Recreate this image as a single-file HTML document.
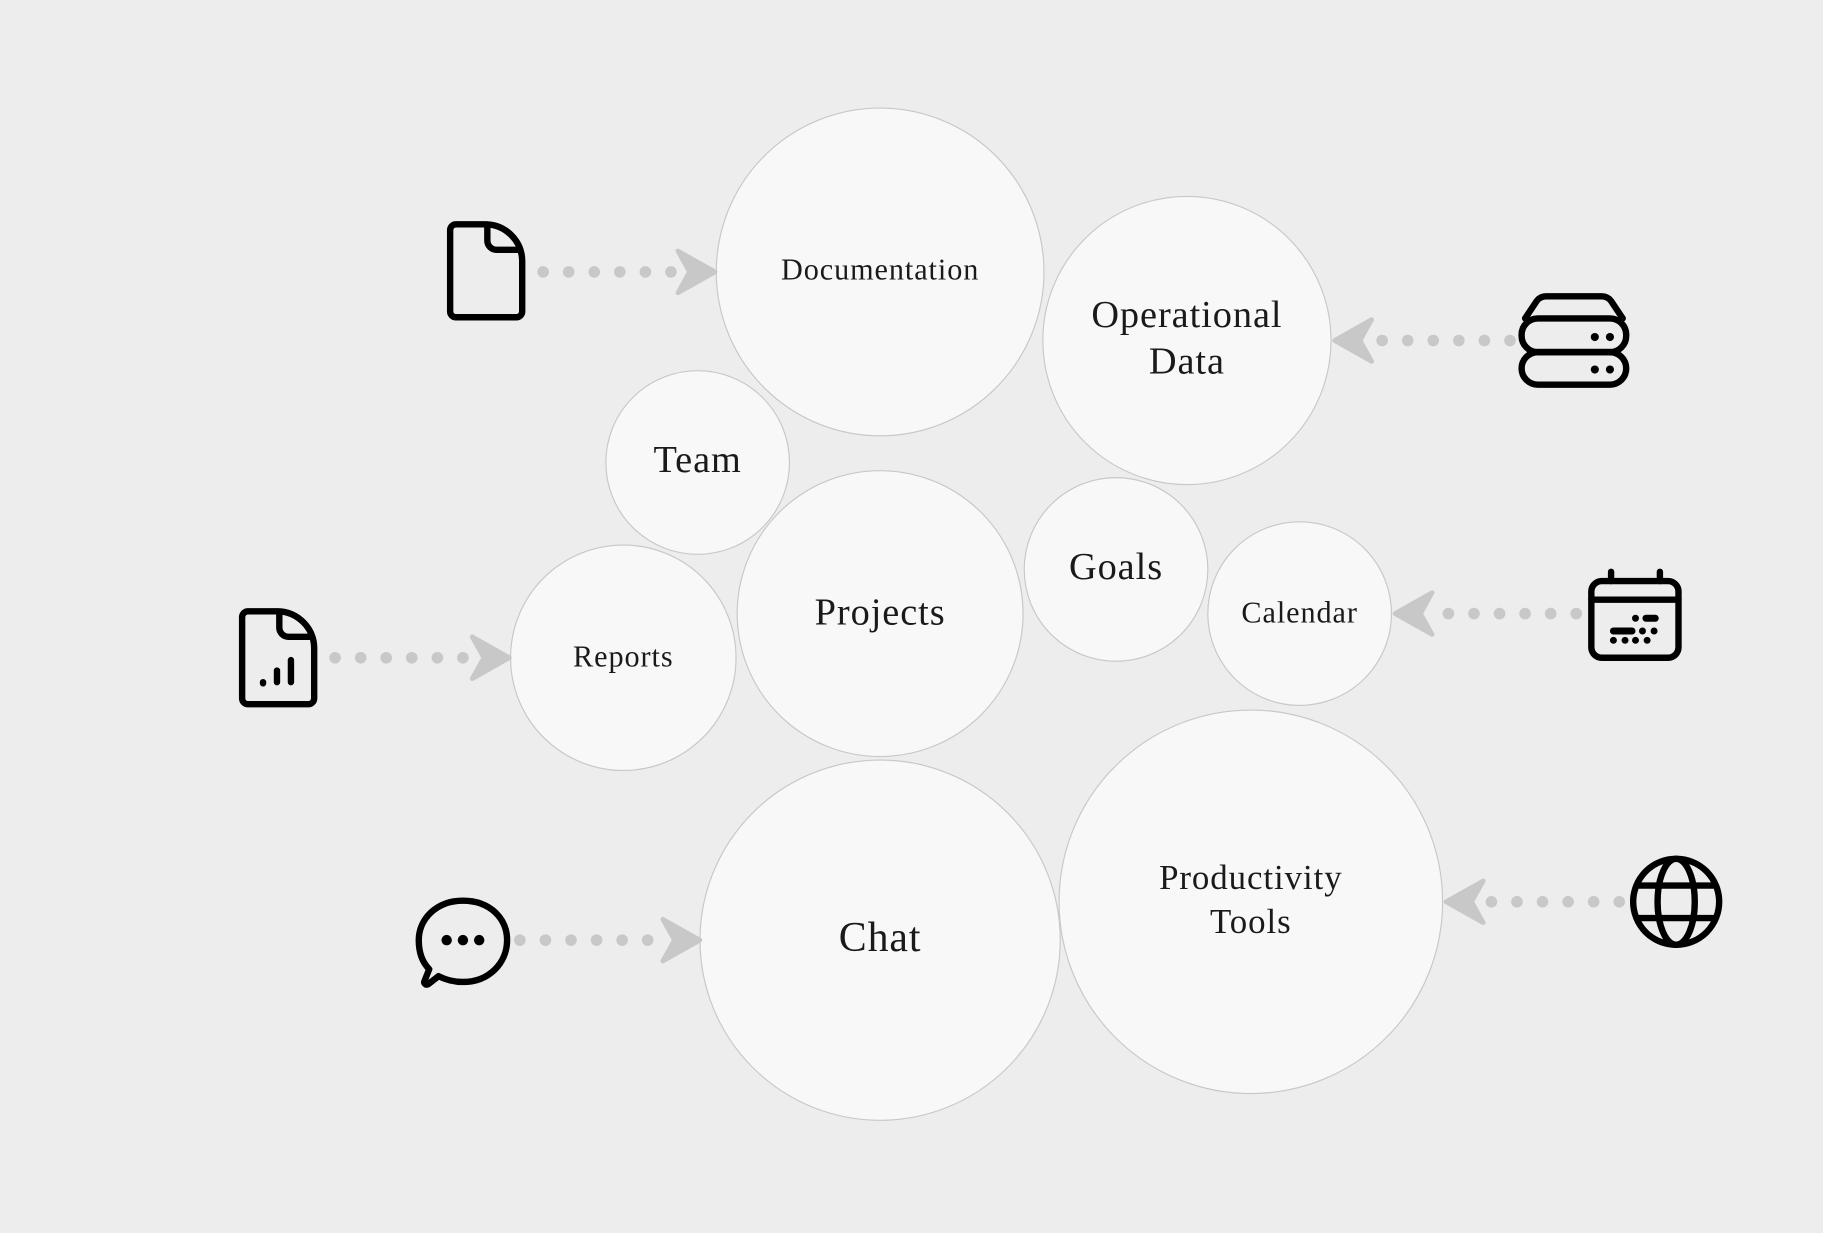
<!DOCTYPE html>
<html><head><meta charset="utf-8"><style>
html,body{margin:0;padding:0;background:#ededed;}
svg{display:block}
text{font-family:"Liberation Serif",serif;fill:#1a1a1a;text-anchor:middle;dominant-baseline:central}
</style></head><body>
<svg width="1823" height="1233" viewBox="0 0 1568 1061" xmlns="http://www.w3.org/2000/svg">
<rect width="1568" height="1061" fill="#ededed"/>
<g fill="#f8f8f8" stroke="#c8c8c8" stroke-width="1">
<circle cx="757" cy="234" r="141"/>
<circle cx="1021" cy="293" r="124"/>
<circle cx="600" cy="398" r="79"/>
<circle cx="757" cy="528" r="123"/>
<circle cx="960" cy="490" r="79"/>
<circle cx="1118" cy="528" r="79"/>
<circle cx="536" cy="566" r="97"/>
<circle cx="757" cy="809" r="155"/>
<circle cx="1076" cy="776" r="165"/>
</g>
<g letter-spacing="0.8">
<text x="757" y="232" font-size="26">Documentation</text>
<text x="1021" y="271" font-size="33">Operational</text>
<text x="1021" y="311" font-size="33">Data</text>
<text x="600" y="396" font-size="33">Team</text>
<text x="757" y="527" font-size="33">Projects</text>
<text x="960" y="488" font-size="33">Goals</text>
<text x="1118" y="527" font-size="26">Calendar</text>
<text x="536" y="565" font-size="26">Reports</text>
<text x="757" y="807" font-size="36">Chat</text>
<text x="1076" y="755" font-size="30">Productivity</text>
<text x="1076" y="793" font-size="30">Tools</text>
</g>

<g fill="#c8c8c8" stroke="#c8c8c8" stroke-width="4" stroke-linejoin="round">
<g transform="translate(615,234)"><path d="M0,0 L-32,-18 L-22,0 L-32,18 Z"/></g>
<g transform="translate(438,566)"><path d="M0,0 L-32,-18 L-22,0 L-32,18 Z"/></g>
<g transform="translate(602,809)"><path d="M0,0 L-32,-18 L-22,0 L-32,18 Z"/></g>
<g transform="translate(1148,293)"><path d="M0,0 L32,-18 L22,0 L32,18 Z"/></g>
<g transform="translate(1200,528)"><path d="M0,0 L32,-18 L22,0 L32,18 Z"/></g>
<g transform="translate(1244,776)"><path d="M0,0 L32,-18 L22,0 L32,18 Z"/></g>
</g>
<g fill="#c8c8c8">
<circle cx="467" cy="234" r="5"/><circle cx="489" cy="234" r="5"/><circle cx="511" cy="234" r="5"/><circle cx="533" cy="234" r="5"/><circle cx="555" cy="234" r="5"/><circle cx="577" cy="234" r="5"/>
<circle cx="288" cy="566" r="5"/><circle cx="310" cy="566" r="5"/><circle cx="332" cy="566" r="5"/><circle cx="354" cy="566" r="5"/><circle cx="376" cy="566" r="5"/><circle cx="398" cy="566" r="5"/>
<circle cx="447" cy="809" r="5"/><circle cx="469" cy="809" r="5"/><circle cx="491" cy="809" r="5"/><circle cx="513" cy="809" r="5"/><circle cx="535" cy="809" r="5"/><circle cx="557" cy="809" r="5"/>
<circle cx="1189" cy="293" r="5"/><circle cx="1211" cy="293" r="5"/><circle cx="1233" cy="293" r="5"/><circle cx="1255" cy="293" r="5"/><circle cx="1277" cy="293" r="5"/><circle cx="1299" cy="293" r="5"/>
<circle cx="1246" cy="528" r="5"/><circle cx="1268" cy="528" r="5"/><circle cx="1290" cy="528" r="5"/><circle cx="1312" cy="528" r="5"/><circle cx="1334" cy="528" r="5"/><circle cx="1356" cy="528" r="5"/>
<circle cx="1283" cy="776" r="5"/><circle cx="1305" cy="776" r="5"/><circle cx="1327" cy="776" r="5"/><circle cx="1349" cy="776" r="5"/><circle cx="1371" cy="776" r="5"/><circle cx="1393" cy="776" r="5"/>
</g>

<g fill="none" stroke="#000" stroke-width="5.5" stroke-linecap="round" stroke-linejoin="round">
<path d="M392,193 H418 A32,32 0 0 1 449,224 V268 A5,5 0 0 1 444,273 H392 A5,5 0 0 1 387,268 V198 A5,5 0 0 1 392,193 Z"/>
<path d="M419,194 V207 A8,8 0 0 0 427,215 H447"/>
<path d="M213,526 H239 A32,32 0 0 1 270,557 V601 A5,5 0 0 1 265,606 H213 A5,5 0 0 1 208,601 V531 A5,5 0 0 1 213,526 Z"/>
<path d="M240,527 V540 A8,8 0 0 0 248,548 H268"/>
<path d="M226,587 V588 M238,577 V587 M250,568 V587"/>
<path d="M398,775 C422,775 436,791 436,809 C436,829 420,845 398,845 C390,845 383,843 377,840 L368,847 C366,848 364,846 365,844 L369,834 C363,828 360,819 360,809 C360,791 375,775 398,775 Z"/>
<!-- server -->
<path d="M1330,255 H1378 A10,10 0 0 1 1386,259 L1396,274 M1330,255 A10,10 0 0 0 1322,259 L1312,274"/>
<rect x="1309" y="274" width="90" height="29" rx="14"/>
<rect x="1309" y="303" width="90" height="28" rx="14"/>
<!-- calendar -->
<rect x="1369" y="500" width="75" height="66" rx="9"/>
<path d="M1369,516 H1444 M1386,492 V500 M1428,492 V500"/>
<!-- globe -->
<circle cx="1442" cy="776" r="37"/>
<ellipse cx="1442" cy="776" rx="16" ry="37"/>
<path d="M1408,762 H1476 M1408,790 H1476"/>
</g>
<g fill="#000">
<circle cx="384" cy="809" r="4.5"/><circle cx="398" cy="809" r="4.5"/><circle cx="412" cy="809" r="4.5"/>
<circle cx="1372" cy="290" r="3.5"/><circle cx="1385" cy="290" r="3.5"/>
<circle cx="1372" cy="318" r="3.5"/><circle cx="1385" cy="318" r="3.5"/>
<circle cx="1407" cy="532" r="3"/><rect x="1413" y="529" width="14" height="6" rx="3"/>
<rect x="1385" y="540" width="22" height="6" rx="3"/><circle cx="1413" cy="543" r="3"/><circle cx="1423" cy="543" r="3"/>
<circle cx="1388" cy="551" r="3"/><circle cx="1398" cy="551" r="3"/><circle cx="1407" cy="551" r="3"/><circle cx="1417" cy="551" r="3"/>
</g>
</svg>
</body></html>
